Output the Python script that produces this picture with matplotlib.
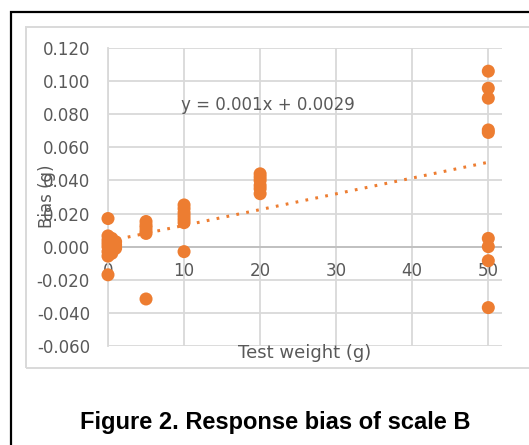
import numpy as np
import matplotlib
matplotlib.use('Agg')
import matplotlib.pyplot as plt
from matplotlib.patches import Rectangle

# --- data (test weight in g, bias in g) ---
weights_0 = [0, 0, 0, 0, 0, 0, 0, 0, 0.5, 0.5, 0.5, 0.5, 1, 1, 1]
bias_0 = [0.017, 0.0065, 0.004, 0.002, 0.0, -0.003, -0.0057, -0.017,
          0.005, 0.002, -0.001, -0.004, 0.003, 0.001, -0.001]
weights_5 = [5, 5, 5, 5, 5, 5]
bias_5 = [0.0152, 0.013, 0.0115, 0.0095, 0.008, -0.0316]
weights_10 = [10, 10, 10, 10, 10, 10, 10]
bias_10 = [0.0252, 0.023, 0.0205, 0.0185, 0.0165, 0.0145, -0.003]
weights_20 = [20, 20, 20, 20, 20, 20]
bias_20 = [0.044, 0.042, 0.040, 0.037, 0.035, 0.032]
weights_50 = [50, 50, 50, 50, 50, 50, 50, 50, 50]
bias_50 = [0.106, 0.0957, 0.0897, 0.0705, 0.069, 0.005, 0.0, -0.0085, -0.0368]

# trendline as drawn in the reference
trend_slope = 0.000954
trend_intercept = 0.0033
trend_label = 'y = 0.001x + 0.0029'

x_ticks = [0, 10, 20, 30, 40, 50]
y_ticks = [-0.06, -0.04, -0.02, 0.0, 0.02, 0.04, 0.06, 0.08, 0.10, 0.12]

x_all = np.array(weights_0 + weights_5 + weights_10 + weights_20 + weights_50)
y_all = np.array(bias_0 + bias_5 + bias_10 + bias_20 + bias_50)

ORANGE = '#ED7D31'
GRID = '#D9D9D9'
TEXT = '#595959'

plt.rcParams['font.family'] = 'DejaVu Sans'

fig = plt.figure(figsize=(5.29, 4.45), dpi=100)
ax = fig.add_axes([108 / 529, 1 - 346 / 445, 394 / 529, 298 / 445])

# frames around the chart (black outer box, grey chart-area box)
fig.patches.append(Rectangle((11 / 529, -0.1), 1.2, 1 - 12 / 445 + 0.1,
                             transform=fig.transFigure, fill=False,
                             edgecolor='black', linewidth=1.6))
fig.patches.append(Rectangle((26 / 529, 1 - 368 / 445), 1.2, (368 - 27) / 445,
                             transform=fig.transFigure, fill=False,
                             edgecolor=GRID, linewidth=1.4))

ax.set_xlim(0, 51.8)
ax.set_ylim(-0.06, 0.12)
ax.set_xticks(x_ticks)
ax.set_yticks(y_ticks)
ax.set_yticklabels([f'{v:.3f}' for v in y_ticks])
ax.set_xticklabels([])

ax.grid(True, color=GRID, linewidth=1.3, zorder=0)
ax.set_axisbelow(True)
for s in ['top', 'right', 'bottom']:
    ax.spines[s].set_visible(False)
ax.spines['left'].set_color(GRID)
ax.spines['left'].set_linewidth(1.3)
ax.axhline(0, color='#BFBFBF', linewidth=1.3, zorder=1)
ax.tick_params(length=0, labelsize=12, labelcolor=TEXT, pad=13)

# x tick labels sit right under the zero line
for xt in x_ticks:
    ax.text(xt, -0.015, str(xt), ha='center', va='center', fontsize=12,
            color=TEXT, zorder=2)

ax.scatter(x_all, y_all, s=88, color=ORANGE, edgecolors='none', zorder=3,
           clip_on=False)

# linear trendline
xs = np.array([0, 50])
ax.plot(xs, trend_slope * xs + trend_intercept, color=ORANGE, linewidth=2.2,
        linestyle=(0, (0.9, 2.4)), zorder=2)
ax.text(9.6, 0.0856, trend_label, fontsize=12, color=TEXT, va='center')

fig.text(305 / 529, 1 - 353 / 445, 'Test weight (g)', fontsize=13,
         color=TEXT, ha='center', va='center')
fig.text(47 / 529, 1 - 196 / 445, 'Bias (g)', rotation=90, fontsize=12,
         color=TEXT, ha='center', va='center')

fig.text(275 / 529, 1 - 429 / 445, 'Figure 2. Response bias of scale B',
         fontsize=17, fontweight='bold', family='Liberation Sans',
         ha='center', va='baseline', color='black')

fig.savefig('out.png', dpi=100)
